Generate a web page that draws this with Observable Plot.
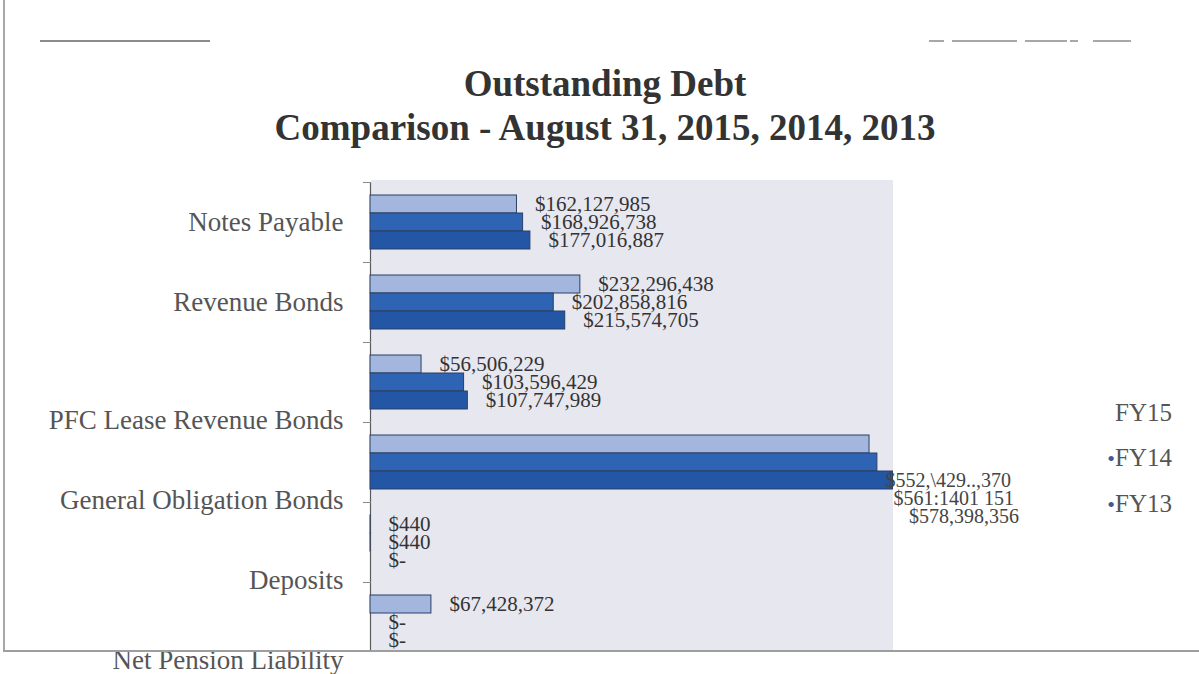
<!DOCTYPE html>
<html><head><meta charset="utf-8">
<script src="https://cdn.jsdelivr.net/npm/d3@7"></script>
<script src="https://cdn.jsdelivr.net/npm/@observablehq/plot@0.6"></script>
<style>
html,body{margin:0;padding:0;background:#fff;}
#page{position:relative;width:1199px;height:674px;overflow:hidden;font-family:"Liberation Serif","Times New Roman",serif;}
#frameL{position:absolute;left:3px;top:0;width:2px;height:652px;background:#a8a8a8;z-index:5}
#frameB{position:absolute;left:3px;top:650px;width:1196px;height:2px;background:#9e9e9e;z-index:5}
#cover{position:absolute;left:352px;top:652px;width:847px;height:22px;background:#fff;z-index:4}
#lineL{position:absolute;left:40px;top:40px;width:170px;height:2px;background:#8c8c8c}
.dash{position:absolute;top:40px;height:2px;background:#a8a8a8}
#title{position:absolute;left:0;top:62px;width:1210px;text-align:center;font-weight:bold;font-size:37px;line-height:44px;color:#333}
#bg{position:absolute;left:371px;top:180px;width:522px;height:470px;background:#e7e7ef}
#chart{position:absolute;left:0;top:170px}
#legend{position:absolute;right:27px;top:390px;text-align:right;font-size:25px;line-height:45px;color:#555}
#legend .b{color:#3d5b8e;font-size:22px;}
</style>
</head>
<body>
<div id="page">
  <div id="frameL"></div>
  <div id="frameB"></div>
  <div id="cover"></div>
  <div id="lineL"></div>
  <div class="dash" style="left:929px;width:15px"></div>
  <div class="dash" style="left:952px;width:65px"></div>
  <div class="dash" style="left:1025px;width:42px"></div>
  <div class="dash" style="left:1070px;width:8px"></div>
  <div class="dash" style="left:1093px;width:38px"></div>
  <div id="title">Outstanding Debt<br>Comparison - August 31, 2015, 2014, 2013</div>
  <div id="bg"></div>
  <div id="chart"></div>
  <div id="legend"></div>
</div>
<script>
const categories = ["Notes Payable", "Revenue Bonds", "PFC Lease Revenue Bonds", "General Obligation Bonds", "Deposits", "Net Pension Liability"];
const series = ["FY15", "FY14", "FY13"];
const fy15 = [162127985, 232296438, 56506229, 552429370, 440, 67428372];
const fy14 = [168926738, 202858816, 103596429, 561140151, 440, 0];
const fy13 = [177016887, 215574705, 107747989, 578398356, 0, 0];
const fy15Labels = ["$162,127,985", "$232,296,438", "$56,506,229", "$552,\\429..,370", "$440", "$67,428,372"];
const fy14Labels = ["$168,926,738", "$202,858,816", "$103,596,429", "$561:1401 151", "$440", "$-"];
const fy13Labels = ["$177,016,887", "$215,574,705", "$107,747,989", "$578,398,356", "$-", "$-"];
const colors = ["#a3b6dd", "#2e64b3", "#2356a5"];

const valueSets = [fy15, fy14, fy13];
const labelSets = [fy15Labels, fy14Labels, fy13Labels];
const rows = [];
categories.forEach((c, i) => {
  series.forEach((s, j) => rows.push({category: c, series: s, value: valueSets[j][i], label: labelSets[j][i]}));
});
const go = "General Obligation Bonds";

const chart = Plot.plot({
  width: 1199,
  height: 504,
  marginTop: 12,
  marginBottom: 12,
  marginLeft: 370,
  marginRight: 287,
  style: {fontFamily: "Liberation Serif, Times New Roman, serif", background: "transparent", overflow: "visible"},
  x: {domain: [0, 600e6], axis: null},
  y: {domain: series, axis: null, paddingInner: 0, paddingOuter: 0.722},
  fy: {domain: categories, padding: 0, label: null, axis: null},
  color: {domain: series, range: colors},
  marks: [
    Plot.ruleX([0], {stroke: "#5a5a5a", strokeWidth: 1.2}),
    Plot.frame({anchor: "top", insetLeft: -7, insetRight: 542, stroke: "#888"}),
    Plot.text(categories.slice(0, 2), {fy: d => d, text: d => d, frameAnchor: "left", dx: -27, textAnchor: "end", fontSize: 27, fill: "#555"}),
    Plot.text(categories.slice(2), {fy: d => d, text: d => d, frameAnchor: "left", dx: -27, dy: 38, textAnchor: "end", fontSize: 27, fill: "#555"}),
    Plot.barX(rows, {fy: "category", y: "series", x: "value", fill: "series", stroke: "#2b3f66", strokeWidth: 1}),
    Plot.text(rows.filter(d => d.category !== go), {fy: "category", y: "series", x: "value", text: "label", dx: 18, textAnchor: "start", fontSize: 21, fill: "#333"}),
    Plot.text(rows.filter(d => d.category === go), {fy: "category", y: "series", x: "value", text: "label", dx: 16, dy: 36, textAnchor: "start", fontSize: 20, fill: "#444"})
  ]
});
document.getElementById("chart").appendChild(chart);

const legend = document.getElementById("legend");
series.forEach((s, i) => {
  const row = document.createElement("div");
  if (i > 0) {
    const b = document.createElement("span");
    b.className = "b";
    b.textContent = "\u2022";
    row.appendChild(b);
  }
  row.appendChild(document.createTextNode(s));
  legend.appendChild(row);
});
</script>
</body></html>
